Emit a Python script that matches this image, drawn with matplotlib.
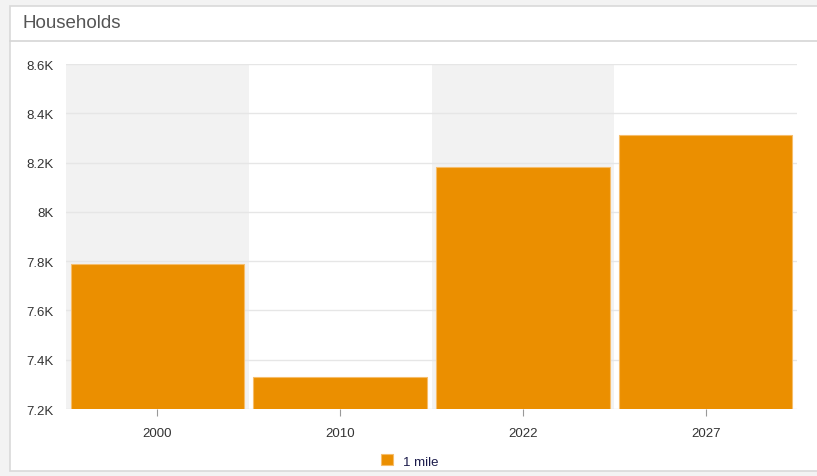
import matplotlib.pyplot as plt
from matplotlib.patches import Rectangle
from matplotlib.lines import Line2D
from matplotlib.ticker import FuncFormatter

plt.rcParams['font.family'] = ['Liberation Sans', 'DejaVu Sans']

# Chart data
years = ['2000', '2010', '2022', '2027']
households = [7788, 7331, 8184, 8311]
series_name = '1 mile'
y_ticks = [7200, 7400, 7600, 7800, 8000, 8200, 8400, 8600]

W, H = 817, 477
fig = plt.figure(figsize=(W / 100, H / 100), dpi=100)
fig.patch.set_facecolor('#f3f3f3')

# White panel with header
panel = Rectangle((10 / W, 1 - 472 / H), 820 / W, (472 - 7) / H, transform=fig.transFigure,
                  facecolor='white', edgecolor='#d9d9d9', linewidth=1.2, zorder=-2)
fig.patches.append(panel)
fig.lines.append(Line2D([10 / W, 1], [1 - 42 / H, 1 - 42 / H], transform=fig.transFigure,
                        color='#d6d6d6', linewidth=1.2, zorder=-1))
fig.text(22 / W, 1 - 24 / H, 'Households', fontsize=13.5, color='#555555', va='center', ha='left')

ax = fig.add_axes([66 / W, 1 - 410 / H, (797 - 66) / W, (410 - 65) / H])
ax.set_zorder(1)
ax.set_facecolor('white')

x = list(range(len(years)))
for i in x:
    if i % 2 == 0:
        ax.axvspan(i - 0.5, i + 0.5, color='#f2f2f2', zorder=0, linewidth=0)

ax.bar(x, households, width=0.95, color='#eb8f00', edgecolor='#f6bd6b', linewidth=0.8,
       zorder=3, label=series_name)

ax.set_xlim(-0.5, len(years) - 0.5)
ax.set_ylim(y_ticks[0], y_ticks[-1])
ax.set_yticks(y_ticks)
ax.yaxis.set_major_formatter(FuncFormatter(lambda v, p: f'{v / 1000:g}K'))
ax.set_xticks(x)
ax.set_xticklabels(years)
ax.grid(axis='y', color='#e6e6e6', linewidth=1, zorder=1)
ax.set_axisbelow(True)
for s in ax.spines.values():
    s.set_visible(False)
ax.tick_params(axis='y', length=0, pad=9, labelsize=9.5, labelcolor='#333333')
ax.tick_params(axis='x', length=5, color='#999999', pad=8, labelsize=9.5, labelcolor='#333333')

fig.legend(loc='center', bbox_to_anchor=(410 / W, 1 - 462 / H), frameon=False,
           fontsize=9.5, handlelength=0.9, handleheight=0.9, handletextpad=0.8,
           labelcolor='#1a1a4a')

fig.savefig('out.png', dpi=100, facecolor=fig.get_facecolor())
